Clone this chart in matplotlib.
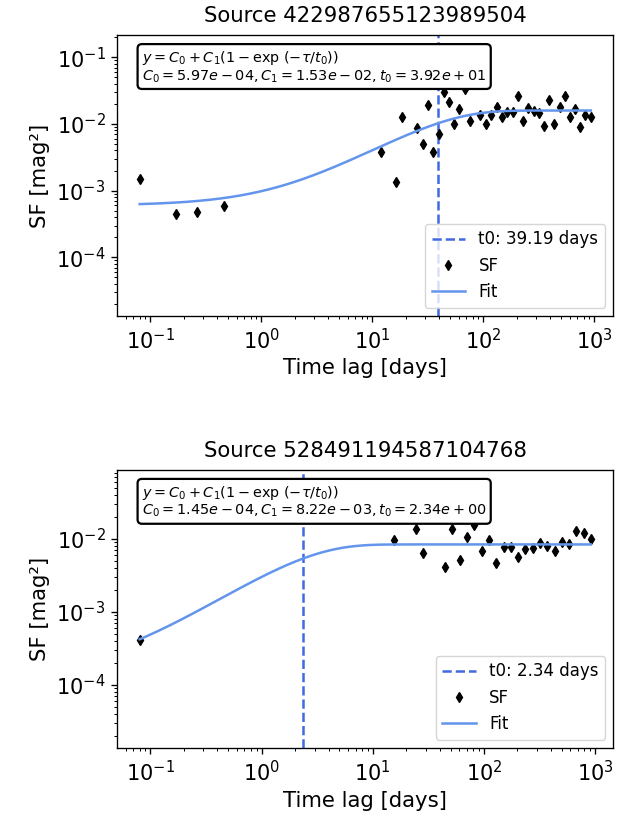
import numpy as np
import matplotlib
matplotlib.use('Agg')
from matplotlib import pyplot as plt

# Structure function of the first source
lag_a = [0.08, 0.171, 0.265, 0.456, 11.9, 16.4, 18.4, 25.4, 28.4, 31.7, 35.1, 39.5,
         44.0, 49.0, 54.7, 60.7, 68.0, 75.0, 93.6, 106, 117.8, 131.7, 147, 164, 184,
         203, 227, 254, 283, 314, 351, 391, 434, 485, 541, 601, 670, 743, 830, 927]
sf_a = [1.51e-3, 4.52e-4, 4.8e-4, 5.9e-4, 3.77e-3, 1.36e-3, 1.26e-2, 8.6e-3, 5.07e-3,
        1.93e-2, 3.85e-3, 7.16e-3, 3.05e-2, 2.16e-2, 9.9e-3, 1.66e-2, 3.3e-2, 1.12e-2,
        1.35e-2, 9.9e-3, 1.35e-2, 1.82e-2, 1.26e-2, 1.53e-2, 1.53e-2, 2.65e-2, 1.1e-2,
        1.72e-2, 1.57e-2, 1.45e-2, 9.3e-3, 2.31e-2, 1.01e-2, 1.8e-2, 2.65e-2, 1.26e-2,
        1.66e-2, 9.0e-3, 1.36e-2, 1.26e-2]
fit_a = (5.97e-4, 1.53e-2, 39.19)

# Structure function of the second source
lag_b = [0.08, 15.5, 24.3, 28.3, 38.0, 44.7, 52.0, 60.5, 70.5, 81.5, 95.5, 110, 128.5,
         150, 174, 203, 236, 275, 320, 372, 431, 501, 583, 679, 791, 914]
sf_b = [4.18e-4, 9.5e-3, 1.34e-2, 6.47e-3, 1.9e-2, 4.11e-3, 1.34e-2, 5.13e-3, 1.05e-2,
        1.56e-2, 6.9e-3, 9.7e-3, 4.6e-3, 7.7e-3, 7.7e-3, 5.7e-3, 7.2e-3, 7.4e-3, 8.8e-3,
        7.9e-3, 6.7e-3, 9.1e-3, 8.4e-3, 1.27e-2, 1.19e-2, 9.8e-3]
fit_b = (1.45e-4, 8.22e-3, 2.34)

sources = ['422987655123989504', '528491194587104768']
ylims = [(10**-4.88, 10**-0.666), (10**-4.865, 10**-1.058)]

# everything a bit heavier than the defaults
plt.rcParams.update({
  'font.size': 12,
  'lines.linewidth': 1.8,
  'axes.linewidth': 0.96,
  'xtick.major.size': 4.2, 'ytick.major.size': 4.2,
  'xtick.minor.size': 2.4, 'ytick.minor.size': 2.4,
  'xtick.major.width': 0.96, 'ytick.major.width': 0.96,
  'xtick.minor.width': 0.72, 'ytick.minor.width': 0.72,
  'xtick.major.pad': 4.2, 'ytick.major.pad': 4.2,
})


def sf_model(tau, c0, c1, t0):
  return c0 + c1 * (1 - np.exp(-tau / t0))


fig = plt.figure(figsize=(6.33, 8.23), dpi=100)
ax_top = fig.add_axes([0.185, 0.616, 0.784, 0.3415])
ax_bot = fig.add_axes([0.185, 0.091, 0.784, 0.338])

for ax, src, lag, sf, fit, ylim in zip([ax_top, ax_bot], sources, [lag_a, lag_b],
                                       [sf_a, sf_b], [fit_a, fit_b], ylims):
  c0, c1, t0 = fit
  tau = np.logspace(np.log10(min(lag)), np.log10(max(lag)), 300)
  ax.axvline(t0, color='royalblue', linestyle='--', label=f't0: {t0:.2f} days')
  ax.plot(lag, sf, 'kd', markersize=5, label='SF')
  ax.plot(tau, sf_model(tau, c0, c1, t0), color='cornflowerblue', label='Fit')
  ax.set_xscale('log')
  ax.set_yscale('log')
  ax.set_ylim(*ylim)
  ax.set_title(f'Source {src}', fontsize=15.3, pad=9)
  ax.set_xlabel('Time lag [days]', fontsize=15.3)
  ax.set_ylabel('SF [mag²]', fontsize=15.3)
  ax.tick_params(labelsize=15)
  txt = ('$y = C_0 + C_1(1 - \\exp\\,(-\\tau/t_0))$\n'
         f'$C_0 = {c0:.2e}, C_1 = {c1:.2e}, t_0 = {t0:.2e}$')
  ax.text(0.05, 0.95, txt, transform=ax.transAxes, fontsize=10.4, va='top', zorder=5,
          linespacing=1.1,
          bbox=dict(boxstyle='round', facecolor='white', edgecolor='black', linewidth=1.6))
  ax.legend(loc='lower right', fontsize=12)

fig.savefig('out.png', dpi=100)
